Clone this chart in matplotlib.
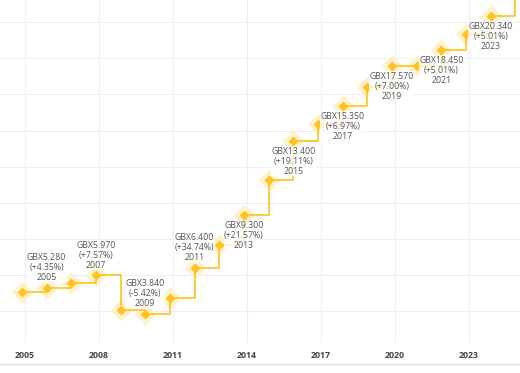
import matplotlib
matplotlib.use("Agg")
import matplotlib.pyplot as plt
from matplotlib.lines import Line2D

# Dividend per share (GBX) by dividend year
years = [2004, 2005, 2006, 2007, 2008, 2009, 2010, 2011, 2012, 2013, 2014,
         2015, 2016, 2017, 2018, 2019, 2020, 2021, 2022, 2023, 2024]
values = [5.06, 5.28, 5.55, 5.97, 4.06, 3.84, 4.75, 6.40, 7.65, 9.30, 11.25,
          13.40, 14.35, 15.35, 16.42, 17.57, 17.57, 18.45, 19.37, 20.34, 22.10]

label_years = [2005, 2007, 2009, 2011, 2013, 2015, 2017, 2019, 2021, 2023]
label_changes = ["+4.35%", "+7.57%", "-5.42%", "+34.74%", "+21.57%",
                 "+19.11%", "+6.97%", "+7.00%", "+5.01%", "+5.01%"]
label_side = ["above", "above", "above", "above", "below",
              "below", "below", "below", "below", "below"]

tick_years = [2005, 2008, 2011, 2014, 2017, 2020, 2023]
grid_values = [4, 6, 8, 10, 12, 14, 16, 18, 20]

PAY_OFFSET = 0.88  # payment falls late in the following calendar position
xs = [y + PAY_OFFSET for y in years]

LINE = "#FFC21E"
HALO = "#FFF1CC"
TXT = "#555555"

fig = plt.figure(figsize=(5.2, 3.73), dpi=100)
ax = fig.add_axes([0, 30 / 373, 1, 343 / 373])
ax.set_xlim(2003.99, 2025.07)
ax.set_ylim(2.23, 21.23)

for v in grid_values:
    ax.axhline(v, color="#efefef", lw=0.8, zorder=0)
for t in tick_years:
    ax.axvline(t, color="#efefef", lw=0.8, zorder=0)

ax.step(xs, values, where="post", color=LINE, lw=1.2, zorder=2)
ax.plot(xs[:-1], values[:-1], ls="none", marker="D", ms=11,
        color=HALO, mec="none", zorder=1)
ax.plot(xs[:-1], values[:-1], ls="none", marker="D", ms=5,
        color=LINE, mec="none", zorder=3)

for y, ch, side in zip(label_years, label_changes, label_side):
    i = years.index(y)
    txt = f"GBX{values[i]:.3f}\n({ch})\n{y}"
    off = 4 if side == "above" else -4
    ax.annotate(txt, (xs[i], values[i]), xytext=(0, off),
                textcoords="offset points", ha="center",
                va="bottom" if side == "above" else "top",
                fontsize=6.3, color=TXT, family="Open Sans",
                linespacing=1.15, zorder=4,
                bbox=dict(boxstyle="square,pad=0.05", fc="white",
                          ec="none", alpha=0.75))

ax.set_xticks(tick_years)
ax.set_xticklabels([str(t) for t in tick_years], fontsize=6.3,
                   fontweight="bold", color="#444444", family="Open Sans")
ax.tick_params(axis="x", length=0, pad=6)
ax.set_yticks([])
for s in ax.spines.values():
    s.set_visible(False)

fig.add_artist(Line2D([0, 1], [9 / 373, 9 / 373], color="#e3e3e3", lw=1,
                      transform=fig.transFigure))

fig.savefig("out.png", dpi=100, facecolor="white")
